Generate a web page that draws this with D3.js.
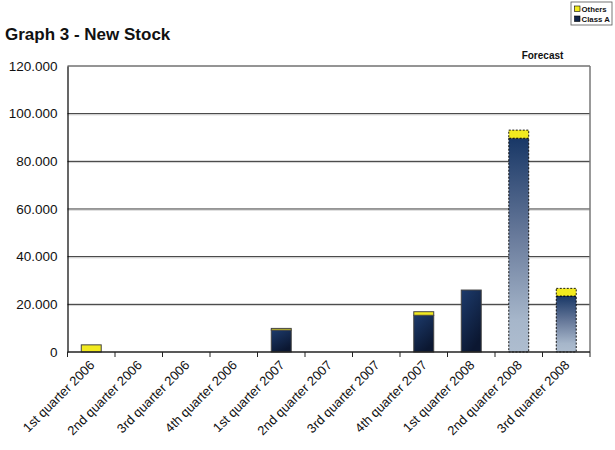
<!DOCTYPE html>
<html>
<head>
  <meta charset="utf-8">
  <title>Graph 3 - New Stock</title>
  <script src="https://d3js.org/d3.v7.min.js"></script>
  <style>
    body { margin: 0; background: #fff; }
    text { font-family: "Liberation Sans", Arial, sans-serif; }
  </style>
</head>
<body>
  <svg id="chart"></svg>
  <script>
    // chart values
    const quarters = ["1st quarter 2006", "2nd quarter 2006", "3rd quarter 2006", "4th quarter 2006",
      "1st quarter 2007", "2nd quarter 2007", "3rd quarter 2007", "4th quarter 2007",
      "1st quarter 2008", "2nd quarter 2008", "3rd quarter 2008"];
    const classA = [0, 0, 0, 0, 9200, 0, 0, 15400, 26000, 89700, 23500];
    const others = [3000, 0, 0, 0, 700, 0, 0, 1500, 0, 3400, 3200];
    const forecast = [false, false, false, false, false, false, false, false, false, true, true];
    const yTicks = [0, 20000, 40000, 60000, 80000, 100000, 120000];

    const width = 615, height = 450;
    const margin = { top: 66, right: 25, bottom: 98, left: 67.5 };
    const chartWidth = width - margin.left - margin.right;
    const chartHeight = height - margin.top - margin.bottom;
    const font = "'Liberation Sans', Arial, sans-serif";

    const data = quarters.map((q, i) => ({ q: q, classA: classA[i], others: others[i], forecast: forecast[i] }));
    const series = d3.stack().keys(["classA", "others"])(data);

    const x = d3.scaleBand().domain(quarters).range([0, chartWidth]).paddingInner(0.58).paddingOuter(0.29);
    const y = d3.scaleLinear().domain([0, 120000]).range([chartHeight, 0]);

    const svg = d3.select("#chart").attr("width", width).attr("height", height);

    const defs = svg.append("defs");
    const hist = defs.append("linearGradient").attr("id", "hist")
      .attr("x1", 0).attr("y1", 0).attr("x2", 0.5).attr("y2", 1);
    hist.append("stop").attr("offset", "0%").attr("stop-color", "#1d3b6c");
    hist.append("stop").attr("offset", "100%").attr("stop-color", "#0b1731");
    const fc = defs.append("linearGradient").attr("id", "fc")
      .attr("x1", 0).attr("y1", 0).attr("x2", 0).attr("y2", 1);
    fc.append("stop").attr("offset", "0%").attr("stop-color", "#183766");
    fc.append("stop").attr("offset", "45%").attr("stop-color", "#67799a");
    fc.append("stop").attr("offset", "85%").attr("stop-color", "#a6b6ca");
    fc.append("stop").attr("offset", "100%").attr("stop-color", "#aebdcf");

    // title
    svg.append("text").attr("x", 5).attr("y", 40)
      .attr("font-size", "17px").attr("font-weight", "bold").attr("fill", "#111")
      .text("Graph 3 - New Stock");

    // legend
    const lg = svg.append("g").attr("transform", "translate(571,2)");
    lg.append("rect").attr("width", 41).attr("height", 23).attr("fill", "#fff")
      .attr("stroke", "#555").attr("stroke-width", 0.8);
    [["Others", "#f2ea1f"], ["Class A", "#0f2448"]].forEach((d, i) => {
      lg.append("rect").attr("x", 3.5).attr("y", 4 + i * 10).attr("width", 5.5).attr("height", 5.5)
        .attr("fill", d[1]).attr("stroke", "#000").attr("stroke-width", 0.6);
      lg.append("text").attr("x", 10.5).attr("y", 9.5 + i * 10)
        .attr("font-size", "7.8px").attr("font-weight", "bold").attr("fill", "#111").text(d[0]);
    });

    const g = svg.append("g").attr("transform", `translate(${margin.left},${margin.top})`);

    // Forecast label
    g.append("text")
      .attr("x", (x(quarters[9]) - x.step() * x.paddingInner() / 2 + chartWidth) / 2)
      .attr("y", -7).attr("text-anchor", "middle")
      .attr("font-size", "10px").attr("font-weight", "bold").attr("fill", "#111")
      .text("Forecast");

    // gridlines
    g.selectAll(".grid").data(yTicks.slice(1)).join("line").attr("class", "grid")
      .attr("x1", 0).attr("x2", chartWidth)
      .attr("y1", d => y(d)).attr("y2", d => y(d))
      .attr("stroke", "#2a2a2a").attr("stroke-width", 1);
    g.selectAll(".gridsh").data(yTicks.slice(1, -1)).join("line").attr("class", "gridsh")
      .attr("x1", 0).attr("x2", chartWidth)
      .attr("y1", d => y(d) + 1.2).attr("y2", d => y(d) + 1.2)
      .attr("stroke", "#c8c8c8").attr("stroke-width", 0.8);
    // right border
    g.append("line").attr("x1", chartWidth).attr("x2", chartWidth).attr("y1", 0).attr("y2", chartHeight)
      .attr("stroke", "#777").attr("stroke-width", 1.5);

    // y axis
    const yAxis = g.append("g").call(d3.axisLeft(y).tickValues(yTicks).tickSize(0).tickPadding(10)
      .tickFormat(d => d === 0 ? "0" : d3.format(",")(d).replace(/,/g, ".")));
    yAxis.select(".domain").attr("stroke", "#000").attr("stroke-width", 1.2);
    yAxis.selectAll("text").attr("font-size", "13.5px").attr("fill", "#111").attr("font-family", font);

    // bars
    series.forEach(s => {
      g.selectAll(".bar-" + s.key).data(s).join("rect")
        .attr("class", "bar-" + s.key)
        .attr("x", (d, i) => x(quarters[i]))
        .attr("width", x.bandwidth())
        .attr("y", d => y(d[1]))
        .attr("height", d => Math.max(0, y(d[0]) - y(d[1])))
        .attr("display", d => (d[1] - d[0]) > 0 ? null : "none")
        .attr("fill", d => s.key === "others" ? "#f2ea1f" : (d.data.forecast ? "url(#fc)" : "url(#hist)"))
        .attr("stroke", d => d.data.forecast ? "#000" : "#444")
        .attr("stroke-width", d => d.data.forecast ? 0.9 : 1)
        .attr("stroke-dasharray", d => d.data.forecast ? "2,1.5" : null);
    });

    // x axis with ticks at category boundaries
    g.append("line").attr("x1", 0).attr("x2", chartWidth).attr("y1", chartHeight).attr("y2", chartHeight)
      .attr("stroke", "#222").attr("stroke-width", 1.5);
    g.selectAll(".xtick").data(d3.range(quarters.length + 1)).join("line").attr("class", "xtick")
      .attr("x1", d => d * chartWidth / quarters.length)
      .attr("x2", d => d * chartWidth / quarters.length)
      .attr("y1", chartHeight).attr("y2", chartHeight + 5)
      .attr("stroke", "#222").attr("stroke-width", 1);

    g.selectAll(".xlabel").data(quarters).join("text").attr("class", "xlabel")
      .attr("text-anchor", "end")
      .attr("font-size", "13px").attr("fill", "#111")
      .attr("transform", d => `translate(${x(d) + x.bandwidth() / 2 + 4},${chartHeight + 14}) rotate(-45)`)
      .text(d => d);
  </script>
</body>
</html>
